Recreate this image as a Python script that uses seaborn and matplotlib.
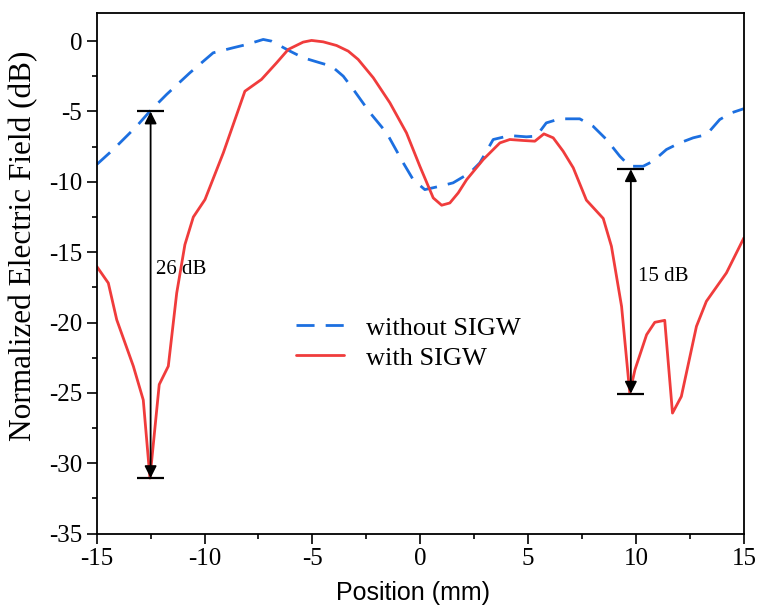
import matplotlib
matplotlib.use("Agg")
import matplotlib.pyplot as plt
import seaborn as sns
import pandas as pd
from matplotlib.ticker import MultipleLocator

# Data: without SIGW (blue dashed)
x_without = [-15.0, -14.23, -13.15, -12.53, -11.76, -10.68, -9.6, -8.67, -8.05, -7.28, -6.9,
             -6.04, -5.43, -4.65, -4.11, -3.57, -3.1, -2.33, -1.56, -0.79, -0.33, 0.21, 0.91,
             1.52, 2.3, 2.76, 3.38, 4.15, 4.92, 5.38, 5.84, 6.46, 7.39, 8.01, 8.63, 9.25,
             9.71, 10.33, 10.79, 11.41, 12.03, 12.65, 13.27, 13.88, 14.43, 15.0]
y_without = [-8.77, -7.7, -6.05, -4.98, -3.79, -2.25, -0.83, -0.47, -0.24, 0.12, 0.0,
             -0.71, -1.18, -1.54, -1.78, -2.49, -3.44, -5.09, -6.52, -8.65, -9.84, -10.55, -10.31,
             -10.07, -9.36, -8.65, -6.99, -6.71, -6.8, -6.75, -5.81, -5.52, -5.52, -6.05, -6.99, -8.18,
             -8.89, -8.89, -8.53, -7.7, -7.23, -6.87, -6.64, -5.57, -5.09, -4.8]

# Data: with SIGW (red solid)
x_with = [-15.0, -14.46, -14.07, -13.3, -12.84, -12.53, -12.1, -11.68, -11.29, -10.91, -10.52,
          -9.98, -9.13, -8.13, -7.36, -6.66, -6.12, -5.43, -5.04, -4.5, -3.88, -3.34, -2.88,
          -2.18, -1.41, -0.64, -0.02, 0.6, 0.99, 1.37, 1.76, 2.15, 2.92, 3.69, 4.15, 4.77,
          5.31, 5.73, 6.16, 6.62, 7.09, 7.7, 8.48, 8.86, 9.33, 9.71, 9.95, 10.49, 10.87,
          11.33, 11.69, 12.1, 12.8, 13.26, 14.19, 15.0]
y_with = [-16.0, -17.19, -19.8, -23.1, -25.5, -31.05, -24.4, -23.1, -17.9, -14.46, -12.5,
          -11.26, -7.94, -3.56, -2.72, -1.54, -0.59, -0.07, 0.05, -0.05, -0.31, -0.71, -1.3,
          -2.6, -4.38, -6.52, -8.89, -11.14, -11.66, -11.5, -10.78, -9.84, -8.41, -7.23, -6.99, -7.06,
          -7.11, -6.59, -6.87, -7.82, -9.0, -11.3, -12.6, -14.58, -18.85, -25.0, -23.35, -20.86, -19.98,
          -19.84, -26.43, -25.25, -20.27, -18.49, -16.47, -13.98]

labels = ["without SIGW", "with SIGW"]
x_ticks = [-15, -10, -5, 0, 5, 10, 15]
y_ticks = [0, -5, -10, -15, -20, -25, -30, -35]

# Annotations (dB differences)
ann1_x, ann1_top, ann1_bot, ann1_text = -12.5, -5.0, -31.05, "26 dB"
ann2_x, ann2_top, ann2_bot, ann2_text = 9.76, -9.1, -25.05, "15 dB"

sns.set_theme(style="white")
plt.rcParams['font.family'] = ['Liberation Serif', 'DejaVu Serif']
plt.rcParams['axes.unicode_minus'] = False
plt.rcParams['text.color'] = 'black'
plt.rcParams['axes.labelcolor'] = 'black'
plt.rcParams['xtick.color'] = 'black'
plt.rcParams['ytick.color'] = 'black'

fig = plt.figure(figsize=(7.57, 6.07), dpi=100)
ax = fig.add_axes([0.1277, 0.1208, 0.855, 0.8578])

df_wo = pd.DataFrame({"x": x_without, "y": y_without})
df_w = pd.DataFrame({"x": x_with, "y": y_with})

sns.lineplot(data=df_wo, x="x", y="y", sort=False, ax=ax, color="#1C6FE0",
             linewidth=2.0, label=labels[0])
ax.lines[-1].set_dashes((6.5, 4))
sns.lineplot(data=df_w, x="x", y="y", sort=False, ax=ax, color="#F03C3C",
             linewidth=2.0, label=labels[1])

ax.set_xlim(-15, 15)
ax.set_ylim(-35, 2)
ax.set_xticks(x_ticks)
ax.set_yticks(y_ticks)
ax.xaxis.set_minor_locator(MultipleLocator(2.5))
ax.yaxis.set_minor_locator(MultipleLocator(2.5))
ax.tick_params(axis='both', which='major', direction='out', length=7, width=1.2,
               labelsize=18, colors='black', bottom=True, left=True, top=False, right=False)
ax.tick_params(axis='both', which='minor', direction='out', length=3.5, width=1.2,
               bottom=True, left=True, top=False, right=False)
for sp in ax.spines.values():
    sp.set_color('black')
    sp.set_linewidth(1.3)
    sp.set_visible(True)

ax.set_xlabel("Position (mm)", fontsize=18, family=['Liberation Sans', 'DejaVu Sans'],
              va='center', color='black')
ax.xaxis.set_label_coords(0.4887, -0.114)
ax.set_ylabel("Normalized Electric Field (dB)", fontsize=22.5, va='center', color='black')
ax.yaxis.set_label_coords(-0.1123, 0.5525)

# annotations
for xa, yt, yb, txt, tx, ty in [(ann1_x, ann1_top, ann1_bot, ann1_text, ann1_x + 0.25, -16.2),
                               (ann2_x, ann2_top, ann2_bot, ann2_text, ann2_x + 0.35, -16.7)]:
    ax.annotate("", xy=(xa, yb), xytext=(xa, yt),
                arrowprops=dict(arrowstyle='<|-|>', color='black', lw=1.3,
                                mutation_scale=18, shrinkA=0, shrinkB=0))
    ax.hlines([yt, yb], xa - 0.62, xa + 0.62, colors='black', linewidth=1.6)
    ax.text(tx, ty, txt, fontsize=15, va='center', ha='left', color='black')

leg = ax.legend(loc='upper left', bbox_to_anchor=(0.308, 0.418), frameon=False,
                fontsize=19, handlelength=1.8, handletextpad=0.85, labelspacing=0.25,
                borderaxespad=0, borderpad=0)
for t in leg.get_texts():
    t.set_color('black')

fig.savefig("out.png", dpi=100)
